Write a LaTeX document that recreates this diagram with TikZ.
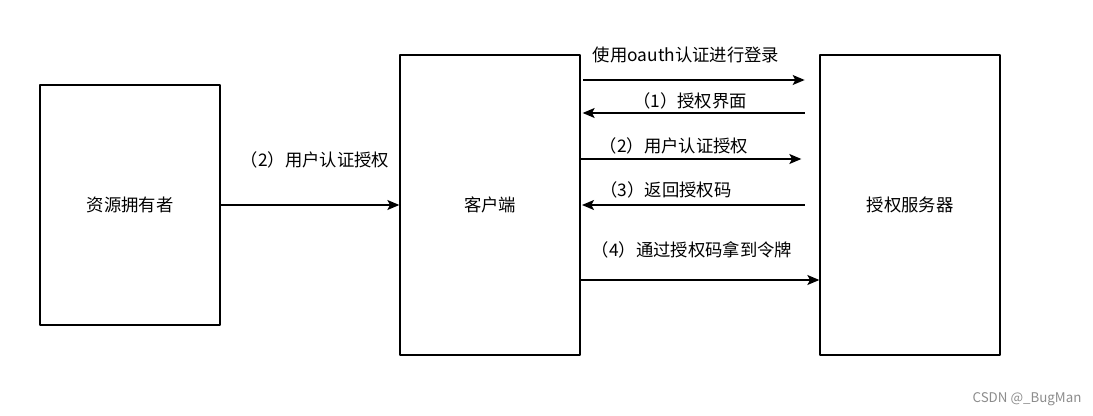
\documentclass[tikz,border=0pt]{standalone}
\usepackage{fontspec}
\setmainfont{Noto Sans CJK SC}
\usetikzlibrary{arrows.meta}
\tikzset{
	box/.style={draw, line width=1pt, minimum width=135pt, inner sep=0pt},
	flow/.style={-{Stealth[length=9pt,width=7.5pt,inset=2pt]}, line width=1pt},
	lbl/.style={inner sep=0pt}
}
\begin{document}
\begin{tikzpicture}[x=0.75pt, y=-0.75pt, font=\fontsize{13pt}{15pt}\selectfont, line join=round]
			\useasboundingbox (0,0) rectangle (1093,416);
			\node[box, minimum height=180pt] (owner) at (130,205) {资源拥有者};
			\node[box, minimum height=225pt] (client) at (490,205) {客户端};
			\node[box, minimum height=225pt] (auth) at (910,205) {授权服务器};
			\draw[flow] (owner.east |- 0,205) -- (client.west |- 0,205);
			\draw[flow, shorten <=2pt, shorten >=11pt] (client.east |- 0,80) -- (auth.west |- 0,80);
			\draw[flow, shorten <=11pt, shorten >=1.5pt] (auth.west |- 0,113) -- (client.east |- 0,113);
			\draw[flow, shorten >=13.5pt] (client.east |- 0,159) -- (auth.west |- 0,159);
			\draw[flow, shorten <=11pt, shorten >=1pt] (auth.west |- 0,205) -- (client.east |- 0,205);
			\draw[flow] (client.east |- 0,280) -- (auth.west |- 0,280);
			\node[lbl] (l0) at (315,160) {（2）用户认证授权};
			\node[lbl] (l1) at (686,55) {使用oauth认证进行登录};
			\node[lbl] (l2) at (690,101) {（1）授权界面};
			\node[lbl] (l3) at (674,146) {（2）用户认证授权};
			\node[lbl] (l4) at (666,190) {（3）返回授权码};
			\node[lbl] (l5) at (692,250) {（4）通过授权码拿到令牌};
			\node[lbl, text=black!45, font=\fontsize{10pt}{12pt}\selectfont] (mark) at (1027,399) {CSDN @\_BugMan};
		\end{tikzpicture}
\end{document}
